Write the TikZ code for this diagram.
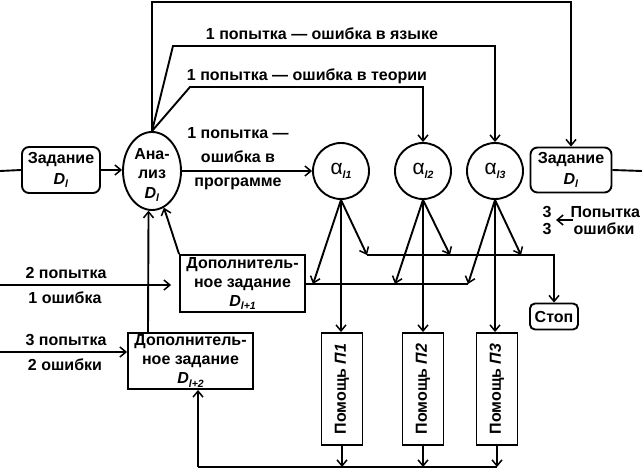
\documentclass[tikz,border=0pt]{standalone}
\usepackage{fontspec}
\usepackage{graphicx}
\setmainfont{Liberation Sans}
\usetikzlibrary{arrows.meta,shapes.geometric}
\newcommand\subl[1]{\raisebox{-0.45ex}{\fontsize{10.5}{10.5}\selectfont\textit{#1}}}
\newcommand\alf{{\fontsize{21}{21}\selectfont\mdseries α}}
\begin{document}
\begin{tikzpicture}[x=1pt,y=-1pt, line width=1.9pt,
  every node/.style={font=\fontsize{16}{19}\selectfont\bfseries},
  arr/.style={-{Straight Barb[length=6pt,width=10pt,line width=1.5pt]}},
  rbox/.style={draw, rounded corners=7pt, inner sep=0pt, align=center},
  sbox/.style={draw, inner sep=0pt, align=center},
  circ/.style={draw, circle, minimum size=56pt, inner sep=0pt},
  lbl/.style={inner sep=0pt, align=center}]
\useasboundingbox (0,0) rectangle (642,470);
% nodes
\node[rbox, minimum width=78pt, minimum height=46pt] (z1) at (61,170) {Задание\\[2pt]\textit{D}\subl{l}};
\node[draw, ellipse, minimum width=58pt, minimum height=78pt, inner sep=0pt] (an) at (152,171) {};
\node[lbl, font=\fontsize{16}{19.5}\selectfont\bfseries] (ant) at (152,175) {Ана-\\лиз\\\textit{D}\subl{l}};
\node[circ] (a1) at (341,171) {\alf\subl{l1}};
\node[circ] (a2) at (423,171) {\alf\subl{l2}};
\node[circ] (a3) at (495,171) {\alf\subl{l3}};
\node[rbox, minimum width=81pt, minimum height=45pt] (z2) at (571,170) {Задание\\[2pt]\textit{D}\subl{l}};
\node[sbox, minimum width=125pt, minimum height=57pt] (d1) at (242.5,283.5) {Дополнитель-\\ное задание\\\textit{D}\subl{l+1}};
\node[sbox, minimum width=125pt, minimum height=56pt] (d2) at (190.5,361) {Дополнитель-\\ное задание\\\textit{D}\subl{l+2}};
\node[sbox, minimum width=41pt, minimum height=112pt] (p1) at (342,389) {\rotatebox{90}{Помощь \textit{П1}}};
\node[sbox, minimum width=41pt, minimum height=112pt] (p2) at (423,389) {\rotatebox{90}{Помощь \textit{П2}}};
\node[sbox, minimum width=41pt, minimum height=112pt] (p3) at (497,389) {\rotatebox{90}{Помощь \textit{П3}}};
\node[rbox, rounded corners=5pt, minimum width=48pt, minimum height=26pt] (st) at (554,316.5) {Стоп};
% labels
\node[lbl] (t3) at (322,34) {1 попытка — ошибка в языке};
\node[lbl] (t2) at (307,76) {1 попытка — ошибка в теории};
\node[lbl, font=\fontsize{16}{24}\selectfont\bfseries] (t1) at (238,159) {1 попытка —\\ошибка в\\программе};
\node[lbl] (i2a) at (66,273) {2 попытка};
\node[lbl] (i2b) at (65,298) {1 ошибка};
\node[lbl] (i3a) at (66,340) {3 попытка};
\node[lbl] (i3b) at (65,365) {2 ошибки};
\node[lbl] (n3a) at (547,212) {3};
\node[lbl] (n3b) at (547,229) {3};
\node[lbl, anchor=east] (pp) at (641,212) {Попытка};
\node[lbl] (po) at (604,229) {ошибки};
% coordinates
\coordinate (inL) at (0,171);
\coordinate (outR) at (642,171);
\coordinate (c2) at (571,2);
\coordinate (k3) at (173,46);
\coordinate (k2) at (190,87);
\coordinate (l1) at (313,284);
\coordinate (r1) at (367,255);
\coordinate (l2) at (395,284);
\coordinate (r2) at (450,255);
\coordinate (l3) at (468,284);
\coordinate (r3) at (521,255);
\coordinate (bb) at (198,467);
\coordinate (in2) at (0,285);
\coordinate (in3) at (0,352);
\coordinate (pa) at (573,220);
\coordinate (pb) at (556,220);
\coordinate (vx) at (148,0);
% connectors
\draw (inL) -- (z1.west);
\draw[arr] (z1.east) -- (z1.east -| an.west);
\draw[arr] (an.east) -- (a1.west);
\draw (z2.east) -- (outR);
\draw[arr] (an.north) |- (c2) -- (z2.north);
\draw[arr] (an.north) -- (k3) -- (k3 -| a3) -- (a3.north);
\draw[arr] (an.north) -- (k2) -- (k2 -| a2) -- (a2.north);
\draw[arr] (pa) -- (pb);
\draw[arr] (a1.south) -- (l1);
\draw[arr] (a1.south) -- (r1);
\draw[arr] (a2.south) -- (l2);
\draw[arr] (a2.south) -- (r2);
\draw[arr] (a3.south) -- (l3);
\draw[arr] (a3.south) -- (r3);
\draw[arr] (r1) -| (st.north);
\draw (d1.east |- l1) -- (l3);
\draw[arr] (a1.south) -- (a1.south |- p1.north);
\draw[arr] (a2.south) -- (p2.north);
\draw[arr] (a3.south) -- (a3.south |- p3.north);
\draw[arr] (p1.south) -- (p1.south |- bb);
\draw[arr] (p2.south) -- (p2.south |- bb);
\draw[arr] (p3.south) -- (p3.south |- bb);
\draw (bb) -- (bb -| p3.south);
\draw[arr] (bb) -- (bb |- d2.south);
\draw[arr, shorten >=8pt] (in2) -- (in2 -| d1.west);
\draw[arr] (in3) -- (in3 -| d2.west);
\draw[arr] (vx |- d2.north) -- (an.265);
\draw[arr] (d1.north west) -- (an.288);
\end{tikzpicture}
\end{document}
